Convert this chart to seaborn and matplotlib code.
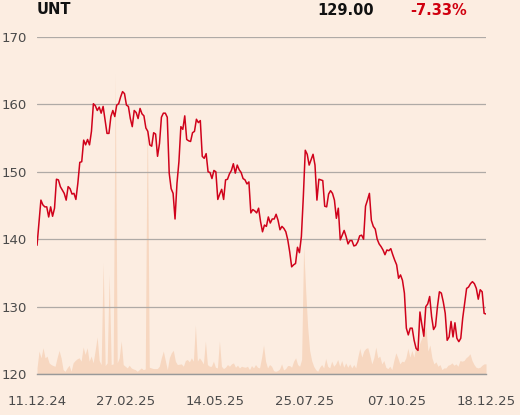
import numpy as np
import pandas as pd
import matplotlib
matplotlib.use("Agg")
import matplotlib.pyplot as plt
import seaborn as sns

# closing prices (oldest first)
price = [
    139.1, 142.5, 145.8, 145.1, 144.8, 144.8, 143.3, 144.8, 143.4, 144.6,
    148.9, 148.8, 147.8, 147.3, 146.8, 145.8, 147.8, 147.5, 146.7, 146.8,
    145.9, 148.3, 151.4, 151.5, 154.7, 154.0, 154.8, 154.0, 156.0, 160.1,
    159.8, 159.1, 159.6, 158.7, 159.7, 157.7, 155.7, 155.7, 158.2, 159.1,
    158.2, 159.9, 160.1, 161.1, 161.9, 161.6, 159.9, 159.7, 157.9, 156.7,
    159.1, 158.8, 157.9, 159.4, 158.6, 158.3, 156.5, 156.0, 154.0, 153.8,
    155.8, 155.6, 152.3, 154.2, 158.1, 158.7, 158.7, 158.1, 149.8, 147.5,
    146.8, 143.0, 148.3, 151.5, 156.7, 156.3, 158.3, 154.8, 154.6, 154.5,
    155.8, 156.0, 157.8, 157.3, 157.6, 152.3, 152.0, 152.7, 150.0, 149.9,
    149.0, 150.2, 150.0, 145.9, 146.7, 147.4, 145.9, 148.8, 148.9, 149.7,
    150.2, 151.2, 149.8, 151.0, 150.3, 149.9, 149.0, 148.8, 148.2, 148.5,
    143.9, 144.4, 144.2, 143.9, 144.6, 142.6, 141.1, 142.1, 141.9, 143.3,
    142.4, 143.0, 143.0, 143.7, 142.8, 141.4, 141.9, 141.6, 141.1, 139.9,
    138.1, 135.9, 136.2, 136.4, 138.8, 138.0, 140.4, 146.3, 153.2, 152.6,
    151.0, 151.8, 152.6, 151.0, 145.8, 148.9, 148.8, 148.7, 144.9, 144.8,
    146.7, 147.2, 146.8, 145.8, 143.1, 144.6, 139.9, 140.6, 141.3, 140.4,
    139.3, 139.8, 139.8, 139.0, 139.1, 139.6, 140.5, 140.6, 140.0, 144.9,
    145.8, 146.8, 142.8, 141.9, 141.5, 140.0, 139.3, 138.9, 138.4, 137.7,
    138.4, 138.3, 138.6, 137.7, 136.9, 136.2, 134.2, 134.7, 133.9, 132.0,
    126.8, 125.8, 126.8, 126.8, 125.0, 123.8, 123.5, 129.2, 127.3, 125.6,
    130.0, 130.4, 131.5, 128.5, 126.6, 127.1, 130.0, 132.2, 132.0, 130.7,
    129.0, 125.0, 125.5, 127.8, 125.5, 127.6, 125.3, 124.8, 125.3, 128.3,
    130.5, 132.7, 132.9, 133.4, 133.7, 133.4, 132.7, 131.1, 132.5, 132.2,
    129.0, 128.9,
]

# traded volume, relative units (100 = top of the panel)
volume = [
    1.8, 6.8, 4.8, 7.8, 4.8, 5.3, 3.3, 2.8, 2.5, 2.3,
    4.8, 7.0, 4.8, 1.3, 0.8, 1.8, 2.6, 0.8, 3.3, 4.0,
    4.5, 4.8, 3.8, 8.0, 5.8, 7.8, 3.8, 5.3, 3.3, 7.0,
    11.0, 4.0, 2.8, 33.0, 2.5, 3.3, 29.4, 2.8, 3.0, 89.0,
    3.3, 4.8, 9.8, 2.8, 2.3, 1.8, 2.6, 1.8, 1.5, 1.3,
    0.8, 1.3, 1.8, 1.3, 1.5, 79.8, 2.0, 1.8, 1.6, 1.6,
    1.6, 2.3, 4.8, 6.8, 4.0, 1.3, 4.8, 6.3, 7.0, 3.8,
    2.8, 2.9, 3.0, 2.3, 4.0, 4.3, 3.6, 4.8, 3.8, 14.5,
    3.8, 4.8, 4.0, 3.0, 9.8, 2.8, 2.3, 2.3, 3.8, 2.0,
    1.8, 9.8, 2.3, 1.6, 2.0, 2.8, 2.3, 3.0, 3.3, 2.0,
    2.6, 1.8, 2.3, 2.1, 2.0, 2.3, 1.3, 2.5, 1.8, 2.8,
    2.0, 1.8, 4.8, 8.6, 3.8, 1.8, 2.8, 2.3, 1.0, 0.8,
    1.0, 1.5, 3.0, 1.2, 1.6, 2.5, 2.5, 2.0, 3.8, 4.8,
    2.8, 2.3, 4.3, 38.0, 25.0, 14.0, 7.0, 4.0, 2.3, 1.3,
    0.8, 2.0, 2.8, 1.8, 4.6, 2.3, 1.8, 3.8, 2.3, 3.0,
    4.3, 2.3, 4.0, 2.0, 3.3, 2.0, 3.0, 1.8, 2.8, 1.8,
    5.0, 7.6, 5.0, 6.8, 7.6, 7.8, 5.6, 3.0, 4.8, 8.0,
    4.8, 5.3, 3.0, 4.0, 2.0, 1.6, 2.3, 1.3, 4.0, 6.3,
    4.8, 3.0, 3.8, 3.6, 4.8, 7.6, 5.0, 7.0, 5.0, 8.3,
    6.8, 9.3, 10.8, 12.0, 14.0, 6.8, 8.6, 4.8, 3.0, 3.6,
    2.3, 2.8, 1.3, 1.8, 1.8, 2.6, 2.8, 3.3, 2.6, 3.0,
    2.3, 4.0, 3.8, 4.0, 4.8, 5.3, 6.0, 4.0, 2.8, 2.0,
    1.8, 2.0, 2.6, 3.0, 3.0,
]

n_days = 256  # trading days shown
tick_days = [0, 50, 101, 152, 204, 255]
tick_labels = ["11.12.24", "27.02.25", "14.05.25", "25.07.25", "07.10.25", "18.12.25"]
y_ticks = [120, 130, 140, 150, 160, 170]

ticker = "UNT"
last_price = "129.00"
change = "-7.33%"

bg = "#FCEDE1"
red = "#D0021B"

df_price = pd.DataFrame({"day": np.linspace(0, n_days - 1, len(price)), "price": price})
df_vol = pd.DataFrame({"day": np.linspace(0, n_days - 1, len(volume)), "volume": volume})

sns.set_style("white")
plt.rcParams["font.family"] = ["DejaVu Sans"]

fig = plt.figure(figsize=(5.2, 4.15), dpi=100, facecolor=bg)
ax = fig.add_axes([0.0712, 0.0988, 0.8635, 0.812])
ax2 = ax.twinx()

# volume in the background
ax2.fill_between(df_vol["day"], df_vol["volume"], color="#F7D7C0", linewidth=0)
ax2.set_ylim(0, 100)
ax2.set_yticks([])
for s in ax2.spines.values():
    s.set_visible(False)

ax.set_zorder(ax2.get_zorder() + 1)
ax.patch.set_visible(False)
ax2.set_facecolor(bg)

sns.lineplot(data=df_price, x="day", y="price", ax=ax, color=red, linewidth=1.1)

ax.set_xlim(0, n_days - 1)
ax.set_ylim(120, 170)
ax.set_yticks(y_ticks)
ax.set_xticks(tick_days)
ax.set_xticklabels(tick_labels)
ax.set_xlabel("")
ax.set_ylabel("")
ax.grid(axis="y", color="#AFAAA6", linewidth=0.9)
ax.grid(axis="x", visible=False)
ax.tick_params(axis="y", length=0, pad=7, labelsize=9.5, labelcolor="#4a4a4a")
ax.tick_params(axis="x", length=10, width=0.9, color="#777777", pad=5,
               labelsize=9.5, labelcolor="#4a4a4a")
for side in ["top", "right", "left"]:
    ax.spines[side].set_visible(False)
ax.spines["bottom"].set_color("#999999")
ax.spines["bottom"].set_linewidth(1.0)

fig.text(0.0712, 0.976, ticker, ha="left", va="center", fontsize=10.5, fontweight="bold", color="#111111")
fig.text(0.719, 0.974, last_price, ha="right", va="center", fontsize=10.5, fontweight="bold", color="#111111")
fig.text(0.898, 0.974, change, ha="right", va="center", fontsize=10.5, fontweight="bold", color="#D0000F")

fig.savefig("out.png", dpi=100, facecolor=bg)
